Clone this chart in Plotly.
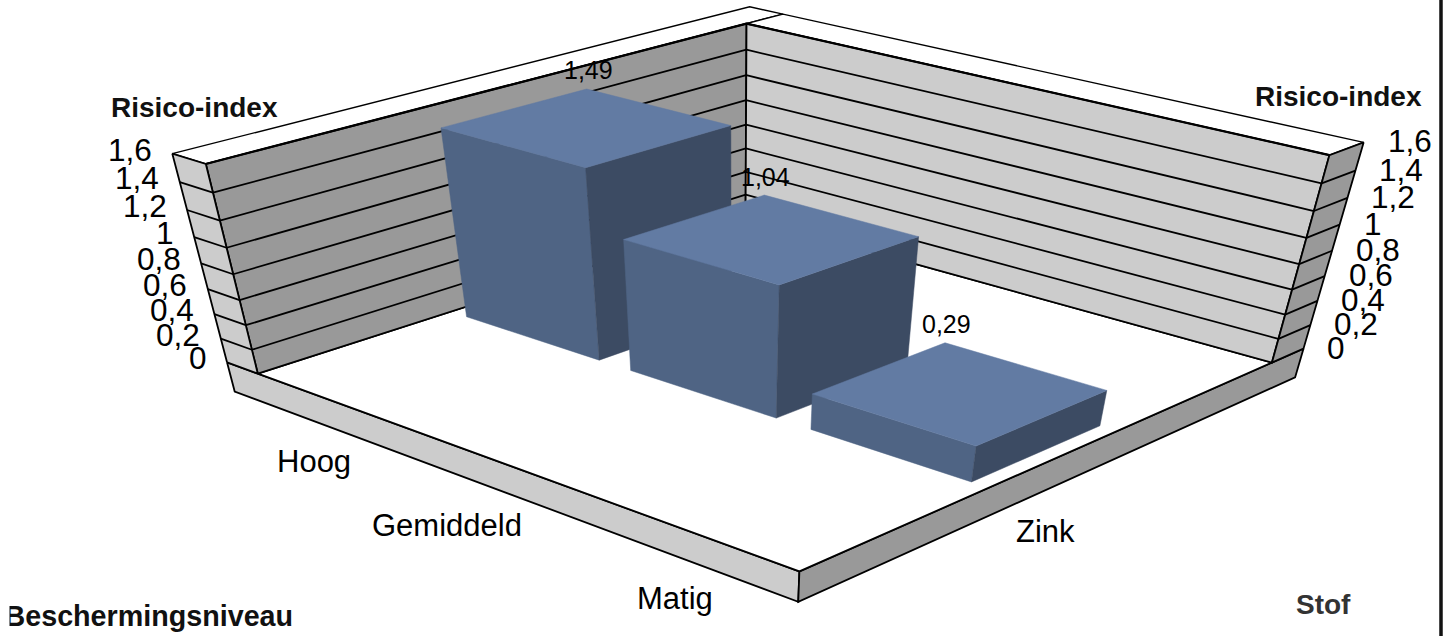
import numpy as np
import plotly.graph_objects as go

# Chart data
protection_levels = ["Hoog", "Gemiddeld", "Matig"]
substances = ["Zink"]
risk_index = [1.49, 1.04, 0.29]
axis_ticks = [0, 0.2, 0.4, 0.6, 0.8, 1.0, 1.2, 1.4, 1.6]
tick_labels = ["0", "0,2", "0,4", "0,6", "0,8", "1", "1,2", "1,4", "1,6"]

# Camera matrix: (level position, substance position, value, 1) -> screen pixels
CAMERA = np.array([
    [142.93601568417452, 603.7350176461088, -45.12584093626783, 257.8123473006377],
    [39.048094438922675, -122.90701640922025, -141.14705028691054, 373.68420360699497],
    [-0.047023329948356125, 0.15560774429950733, -0.06140354095033846, 1.0],
])

# Box extents in axis units
N_LEVELS = len(protection_levels)
Z_TOP = axis_ticks[-1]
WALL_A = 0.20       # thickness of the wall behind the first level
WALL_B = 0.08       # thickness of the wall behind the substance axis
SLAB = 0.25         # floor thickness
BAR_A = (0.10, 0.915)
BAR_B = (0.362, 0.635)

DARK_WALL = "#999999"
LIGHT_WALL = "#CCCCCC"
BAR_TOP = "#627BA3"
BAR_LEFT = "#4F6484"
BAR_RIGHT = "#3C4B63"
FONT = "Liberation Sans"
LINE = 1.8


def project(a, b, z):
    h = CAMERA @ np.array([a, b, z, 1.0])
    return h[0] / h[2], h[1] / h[2]


fig = go.Figure()


def face(corners, fill, line="black", width=LINE):
    xy = [project(*c) for c in corners + corners[:1]]
    fig.add_trace(go.Scatter(
        x=[p[0] for p in xy], y=[p[1] for p in xy], mode="lines",
        fill="toself", fillcolor=fill, line=dict(color=line, width=width),
        hoverinfo="skip", showlegend=False,
    ))


def edge(start, end, width=LINE):
    xy = [project(*start), project(*end)]
    fig.add_trace(go.Scatter(
        x=[p[0] for p in xy], y=[p[1] for p in xy], mode="lines",
        line=dict(color="black", width=width),
        hoverinfo="skip", showlegend=False,
    ))


A0, A1 = -WALL_A, float(N_LEVELS)
B1 = 1 + WALL_B

# Floor slab
face([(A0, 0, 0), (A1, 0, 0), (A1, 0, -SLAB), (A0, 0, -SLAB)], LIGHT_WALL)
face([(A1, 0, 0), (A1, B1, 0), (A1, B1, -SLAB), (A1, 0, -SLAB)], DARK_WALL)
face([(0, 0, 0), (A1, 0, 0), (A1, 1, 0), (0, 1, 0)], "white")

# Wall tops, inner faces and end strips
face([(A0, 0, Z_TOP), (0, 0, Z_TOP), (0, B1, Z_TOP), (A0, B1, Z_TOP)], "white", width=1.4)
face([(0, 1, Z_TOP), (0, B1, Z_TOP), (A1, B1, Z_TOP), (A1, 1, Z_TOP)], "white", width=1.4)
face([(0, 0, 0), (0, 1, 0), (0, 1, Z_TOP), (0, 0, Z_TOP)], DARK_WALL)
face([(0, 1, 0), (A1, 1, 0), (A1, 1, Z_TOP), (0, 1, Z_TOP)], LIGHT_WALL)
face([(A0, 0, 0), (0, 0, 0), (0, 0, Z_TOP), (A0, 0, Z_TOP)], LIGHT_WALL)
face([(A1, 1, 0), (A1, B1, 0), (A1, B1, Z_TOP), (A1, 1, Z_TOP)], DARK_WALL)

# Gridlines wrap around both walls and their end strips
for tick in axis_ticks[1:-1]:
    edge((A0, 0, tick), (0, 0, tick))
    edge((0, 0, tick), (0, 1, tick))
    edge((0, 1, tick), (A1, 1, tick))
    edge((A1, 1, tick), (A1, B1, tick))

# Heavier top edges on the inner walls
edge((0, 0, Z_TOP), (0, 1, Z_TOP), 2.2)
edge((0, 1, Z_TOP), (A1, 1, Z_TOP), 2.2)

# Bars, back to front
for i, value in enumerate(risk_index):
    a0, a1 = i + BAR_A[0], i + BAR_A[1]
    b0, b1 = BAR_B
    face([(a0, b0, 0), (a1, b0, 0), (a1, b0, value), (a0, b0, value)],
         BAR_LEFT, BAR_LEFT, 0.5)
    face([(a1, b0, 0), (a1, b1, 0), (a1, b1, value), (a1, b0, value)],
         BAR_RIGHT, BAR_RIGHT, 0.5)
    face([(a0, b0, value), (a1, b0, value), (a1, b1, value), (a0, b1, value)],
         BAR_TOP, BAR_TOP, 0.5)


def label(x, y, text, size, dx=0, dy=0, anchor="center", bold=False, color="black"):
    fig.add_annotation(
        x=x, y=y, xref="x", yref="y", xshift=dx, yshift=-dy,
        text=f"<b>{text}</b>" if bold else text, showarrow=False,
        xanchor=anchor, yanchor="middle",
        font=dict(family=FONT, size=size, color=color),
    )


# Value axis labels on both outer wall edges
for tick, text in zip(axis_ticks, tick_labels):
    label(*project(A0, 0, tick), text, 31.5, dx=-18.5, dy=-4, anchor="right")
    label(*project(A1, B1, tick), text, 31.5, dx=22, dy=-1, anchor="left")

# Category labels below the slab
level_shift = [(-23, 59), (-61, 60), (-22, 64)]
for i, (name, (dx, dy)) in enumerate(zip(protection_levels, level_shift)):
    label(*project(i + 0.5, 0, 0), name, 31, dx=dx, dy=dy)
label(*project(N_LEVELS, 0.5, 0), substances[0], 31, dx=-10, dy=73)

# Value labels above the bars
value_shift = [(1.5, -56), (-6, -61), (-14, -68)]
for i, (value, (dx, dy)) in enumerate(zip(risk_index, value_shift)):
    text = f"{value:.2f}".replace(".", ",")
    label(*project(i + 0.505, 0.5, value), text, 25, dx=dx, dy=dy)

# Axis titles
label(194, 107, "Risico-index", 28, bold=True, color="#111111")
label(1338, 96, "Risico-index", 28, bold=True, color="#111111")
label(1323, 604, "Stof", 28, bold=True, color="#333333")

# This title runs off the chart area on the left, so it is a trace under a mask
fig.add_trace(go.Scatter(
    x=[4.5], y=[619], mode="text", text=["<b>Beschermingsniveau</b>"],
    textposition="middle right",
    textfont=dict(family=FONT, size=28.7, color="#111111"),
    hoverinfo="skip", showlegend=False,
))

fig.update_layout(
    width=1446, height=636, margin=dict(l=0, r=0, t=0, b=0, pad=0),
    paper_bgcolor="white", plot_bgcolor="white", showlegend=False,
    xaxis=dict(range=[0, 1446], visible=False, fixedrange=True),
    yaxis=dict(range=[636, 0], visible=False, fixedrange=True),
    shapes=[
        dict(type="rect", x0=0, x1=9.5, y0=600, y1=636, xref="x", yref="y",
             fillcolor="white", line_width=0, layer="above"),
        dict(type="line", x0=1441, x1=1441, y0=0, y1=636, xref="x", yref="y",
             line=dict(color="#111111", width=3.5), layer="above"),
    ],
)

fig.write_html("out.html", config={"displayModeBar": False})
